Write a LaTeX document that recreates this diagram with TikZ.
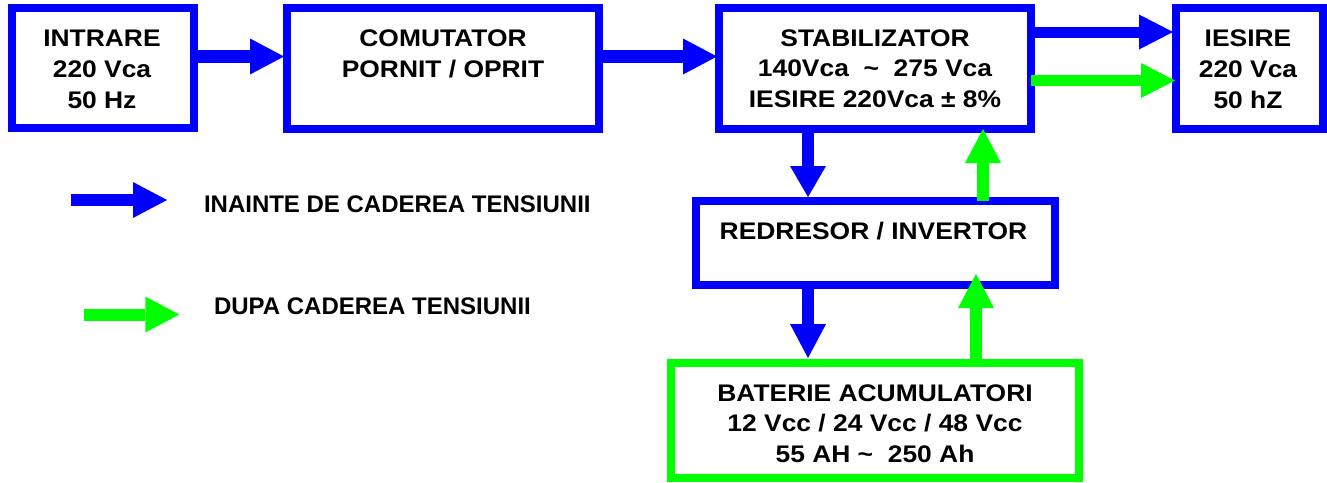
\documentclass[tikz,border=0pt]{standalone}
\usepackage{fontspec}
\setmainfont{Liberation Sans}[FakeStretch=1.10]
\newfontfamily\legfont{Liberation Sans}
\usetikzlibrary{arrows.meta}
\definecolor{pblue}{RGB}{0,0,255}
\definecolor{pgreen}{RGB}{0,255,0}
\newcommand\btext[1]{\begin{tabular}[t]{@{}c@{}}#1\end{tabular}}
\begin{document}
\begin{tikzpicture}[x=1pt,y=-1pt,
  blk/.style={rectangle,draw=pblue,line width=8pt,inner sep=0pt,outer sep=0pt},
  lbl/.style={anchor=base,inner sep=0pt,outer sep=0pt,font=\fontsize{24}{30.8}\selectfont\bfseries},
  leg/.style={anchor=base west,inner sep=0pt,outer sep=0pt,font=\legfont\fontsize{24}{30}\selectfont\bfseries},
  ah/.style={line width=13pt,-{Triangle[width=36pt,length=34pt,line width=0pt]}},
  am/.style={line width=11pt,-{Triangle[width=35pt,length=34pt,line width=0pt]}},
  av/.style={line width=12pt,-{Triangle[width=36pt,length=34pt,line width=0pt]}},
  avs/.style={line width=12pt,-{Triangle[width=36pt,length=31pt,line width=0pt]}}
]
\useasboundingbox (0,0) rectangle (1327,482);
% boxes
\node[blk,minimum width=182pt,minimum height=120pt] (intr) at (103,68) {};
\node[blk,minimum width=312pt,minimum height=121pt] (comm) at (443,68.5) {};
\node[blk,minimum width=312pt,minimum height=121pt] (stab) at (875,68.5) {};
\node[blk,minimum width=147pt,minimum height=121pt] (ies) at (1249.5,68.5) {};
\node[blk,minimum width=359pt,minimum height=84pt] (red) at (875.5,243) {};
\node[blk,draw=pgreen,minimum width=408pt,minimum height=115pt] (bat) at (875,420.5) {};
% texts
\node[lbl] (intrT) at (102,46.5) {\btext{INTRARE\\220 Vca\\50 Hz}};
\node[lbl] (commT) at (443,46.7) {\btext{COMUTATOR\\PORNIT / OPRIT}};
\node[lbl] (stabT) at (875,46) {\btext{STABILIZATOR\\140Vca\ \ \textasciitilde\ \ 275 Vca\\IESIRE 220Vca ± 8\%}};
\node[lbl] (iesT) at (1248,46.5) {\btext{IESIRE\\220 Vca\\50 hZ}};
\node[lbl] (redT) at (873.5,239) {\btext{REDRESOR / INVERTOR}};
\node[lbl] (batT) at (875,401) {\btext{BATERIE ACUMULATORI\\12 Vcc / 24 Vcc / 48 Vcc\\55 AH \textasciitilde\ \ 250 Ah}};
% legend
\node[leg] (leg1) at (204,212.3) {INAINTE DE CADEREA TENSIUNII};
\node[leg] (leg2) at (214,314.3) {DUPA CADEREA TENSIUNII};
\coordinate (b1s) at (71,200);
\coordinate (b1e) at (167,200);
\coordinate (g1s) at (84,314.5);
\coordinate (g1e) at (179.3,314.5);
% connectors
\draw[ah,pblue,shorten >=3pt] (intr.east |- 0,56.5) -- (comm.west |- 0,56.5);
\draw[ah,pblue,shorten >=2pt] (comm.east |- 0,56.5) -- (stab.west |- 0,56.5);
\draw[am,pblue,shorten >=3pt] (stab.east |- 0,32) -- (ies.west |- 0,32);
\draw[am,pgreen,shorten >=1pt] (stab.east |- 0,80.5) -- (ies.west |- 0,80.5);
\draw[avs,pblue,shorten >=4pt] (stab.south -| 808,0) -- (red.north -| 808,0);
\draw[av,pgreen] (red.north -| 983,0) -- (stab.south -| 983,0);
\draw[av,pblue,shorten >=5pt] (red.south -| 808,0) -- (bat.north -| 808,0);
\draw[av,pgreen,shorten >=-11pt] ([yshift=4pt]bat.north -| 976,0) -- (red.south -| 976,0);
\draw[av,pblue] (b1s) -- (b1e);
\draw[av,pgreen] (g1s) -- (g1e);
\end{tikzpicture}
\end{document}
